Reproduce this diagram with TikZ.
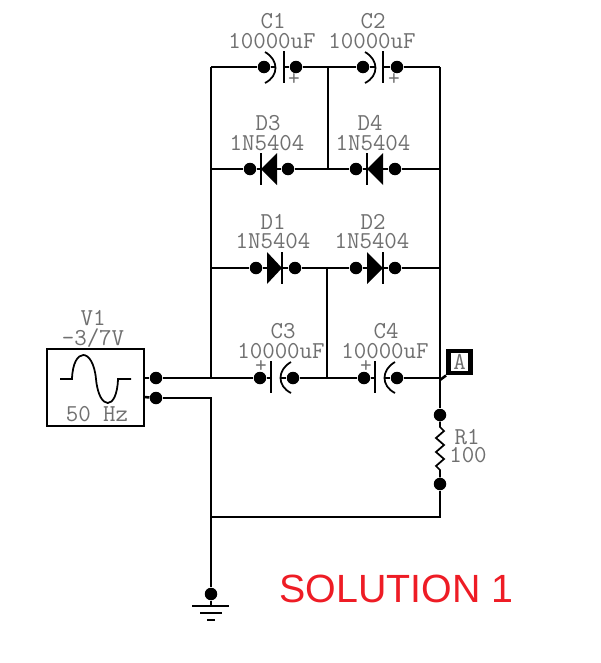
\documentclass[tikz,border=0pt]{standalone}
\usepackage{fontspec}
\newfontfamily\titlefont{Liberation Sans}
\definecolor{schemtext}{HTML}{707070}
\definecolor{schemred}{HTML}{EE1C25}
\tikzset{
    wire/.style={line width=1.45pt, black, line join=miter},
    plate/.style={line width=1.2pt, black},
    thinwire/.style={line width=1pt, black},
    pin/.style={circle, fill=black, inner sep=0pt, minimum size=0.25cm},
    lbl/.style={inner sep=0pt, text=schemtext, font=\fontsize{13.8}{15}\selectfont\ttfamily},
    plus/.style={inner sep=0pt, text=schemtext, font=\fontsize{13}{13}\selectfont\ttfamily}
}
\begin{document}
\begin{tikzpicture}[x=0.02cm, y=-0.02cm]
    \fill[white] (0,0) rectangle (600,663);
    \useasboundingbox (0,0) rectangle (600,663);

    % Corners and junctions
    \coordinate (topleft) at (211,67);
    \coordinate (topmid) at (328,67);
    \coordinate (topright) at (440,67);
    \coordinate (d3left) at (211,169);
    \coordinate (d3mid) at (328,169);
    \coordinate (d4right) at (440,169);
    \coordinate (d1left) at (211,268);
    \coordinate (d1mid) at (327,268);
    \coordinate (d2right) at (440,268);
    \coordinate (c3left) at (211,378);
    \coordinate (c3mid) at (327,378);
    \coordinate (c4right) at (440,378);
    \coordinate (probetap) at (440,380);
    \coordinate (srcbot) at (211,397);
    \coordinate (botleft) at (211,517);
    \coordinate (botright) at (440,517);

    % Source
    \node[draw, line width=1.45pt, minimum width=1.94cm, minimum height=1.54cm, inner sep=0pt] (v1) at (95.5,387.5) {};
    \node[lbl] (v1name) at (93,318) {V1};
    \node[lbl] (v1val) at (93,338) {-3/7V};
    \node[lbl] (v1freq) at (97,414) {50 Hz};
    \draw[line width=1pt] (60,379) -- (72,379) .. controls (73,347) and (93,347) .. (96,379)
        .. controls (99,411) and (117,411) .. (118,379) -- (131,379);
    \node[pin] (srca) at (156,378) {};
    \node[pin] (srcb) at (156,398) {};
    \draw[wire] (144,378) -- (srca);
    \draw[wire] (144,397) -- (srcb);
    \draw[wire] (srca) -- (c3left);
    \draw[wire] (srcb) -- (srcb -| srcbot) -- (botleft);

    % C1 and C2
    \node[lbl] (c1name) at (273,21) {C1};
    \node[lbl] (c1val) at (272,41) {10000uF};
    \node[pin] (c1a) at (264,67) {};
    \node[pin] (c1b) at (296,67) {};
    \draw[wire] (topleft) -- (c1a);
    \draw[wire] (c1a) -- (275,67);
    \draw[thinwire] (265,52) .. controls (279,60) and (279,76) .. (265,83);
    \draw[plate] (284,51) -- (284,83);
    \draw[wire] (284,67) -- (c1b);
    \node[plus] (c1plus) at (294,79) {+};
    \draw[wire] (c1b) -- (topmid);
    \node[lbl] (c2name) at (373,21) {C2};
    \node[lbl] (c2val) at (372,41) {10000uF};
    \node[pin] (c2a) at (363,67) {};
    \node[pin] (c2b) at (397,67) {};
    \draw[wire] (topmid) -- (c2a);
    \draw[wire] (c2a) -- (375,67);
    \draw[thinwire] (365,52) .. controls (379,60) and (379,76) .. (365,83);
    \draw[plate] (383,51) -- (383,83);
    \draw[wire] (383,67) -- (c2b);
    \node[plus] (c2plus) at (394,79) {+};
    \draw[wire] (c2b) -- (topright);

    % D3 and D4
    \node[lbl] (d3name) at (268,123) {D3};
    \node[lbl] (d3val) at (267,143) {1N5404};
    \node[pin] (d3a) at (250,169) {};
    \node[pin] (d3b) at (288,169) {};
    \draw[wire] (d3left) -- (d3a);
    \draw[wire] (d3a) -- (d3b);
    \draw[plate] (261,153) -- (261,185);
    \fill (261,169) -- (277,153) -- (277,185) -- cycle;
    \draw[wire] (d3b) -- (d3mid);
    \node[lbl] (d4name) at (370,123) {D4};
    \node[lbl] (d4val) at (373,143) {1N5404};
    \node[pin] (d4a) at (356,169) {};
    \node[pin] (d4b) at (395,169) {};
    \draw[wire] (d3mid) -- (d4a);
    \draw[wire] (d4a) -- (d4b);
    \draw[plate] (367,153) -- (367,185);
    \fill (367,169) -- (383,153) -- (383,185) -- cycle;
    \draw[wire] (d4b) -- (d4right);
    \draw[wire] (topmid) -- (d3mid);

    % D1 and D2
    \node[lbl] (d1name) at (273,222) {D1};
    \node[lbl] (d1val) at (273,241) {1N5404};
    \node[pin] (d1a) at (256,268) {};
    \node[pin] (d1b) at (295,268) {};
    \draw[wire] (d1left) -- (d1a);
    \draw[wire] (d1a) -- (d1b);
    \draw[plate] (282,252) -- (282,284);
    \fill (282,268) -- (267,252) -- (267,284) -- cycle;
    \draw[wire] (d1b) -- (d1mid);
    \node[lbl] (d2name) at (373,222) {D2};
    \node[lbl] (d2val) at (372,241) {1N5404};
    \node[pin] (d2a) at (356,268) {};
    \node[pin] (d2b) at (395,268) {};
    \draw[wire] (d1mid) -- (d2a);
    \draw[wire] (d2a) -- (d2b);
    \draw[plate] (383,252) -- (383,284);
    \fill (383,268) -- (367,252) -- (367,284) -- cycle;
    \draw[wire] (d2b) -- (d2right);
    \draw[wire] (d1mid) -- (c3mid);

    % C3 and C4
    \node[lbl] (c3name) at (283,331) {C3};
    \node[lbl] (c3val) at (281,351) {10000uF};
    \node[pin] (c3a) at (260,378) {};
    \node[pin] (c3b) at (293,378) {};
    \draw[wire] (c3left) -- (c3a);
    \draw[wire] (c3a) -- (271,378);
    \draw[plate] (271,361) -- (271,393);
    \draw[thinwire] (291,362) .. controls (277,370) and (277,386) .. (291,393);
    \draw[wire] (280,378) -- (c3b);
    \node[plus] (c3plus) at (261,366) {+};
    \draw[wire] (c3b) -- (c3mid);
    \node[lbl] (c4name) at (386,331) {C4};
    \node[lbl] (c4val) at (385,351) {10000uF};
    \node[pin] (c4a) at (364,378) {};
    \node[pin] (c4b) at (397,378) {};
    \draw[wire] (c3mid) -- (c4a);
    \draw[wire] (c4a) -- (375,378);
    \draw[plate] (375,361) -- (375,393);
    \draw[thinwire] (395,362) .. controls (381,370) and (381,386) .. (395,393);
    \draw[wire] (384,378) -- (c4b);
    \node[plus] (c4plus) at (366,366) {+};
    \draw[wire] (c4b) -- (c4right);

    % Outer rails
    \draw[wire] (topleft) -- (c3left);
    \draw[wire] (topright) -- (c4right);

    % Probe A
    \node[draw, line width=2.8pt, minimum size=0.44cm, inner sep=0pt, text=schemtext, font=\fontsize{13.8}{15}\selectfont\ttfamily] (probe) at (459.5,362) {A};
    \draw[wire] (probetap) -- (probe.south west);

    % R1
    \node[pin] (r1a) at (440,415) {};
    \node[pin] (r1b) at (440,484) {};
    \draw[wire] (c4right) -- (r1a);
    \draw[thinwire] (r1a) -- (440,427) -- (444,431) -- (436,438) -- (444,445) -- (436,452) -- (444,459) -- (436,466) -- (440,470) -- (r1b);
    \node[lbl] (r1name) at (467,437) {R1};
    \node[lbl] (r1val) at (468,455) {100};
    \draw[wire] (r1b) -- (botright) -- (botleft);

    % Ground
    \node[pin] (gnd) at (211,594) {};
    \draw[wire] (botleft) -- (gnd);
    \coordinate (gndtop) at (211,606);
    \draw[wire] (gnd) -- (gndtop);
    \draw[wire] (192,606) -- (229,606);
    \draw[wire] (200,613) -- (222,613);
    \draw[wire] (207,620) -- (215,620);

    \node[inner sep=0pt, text=schemred, font=\fontsize{22.4}{24}\selectfont\titlefont] (title) at (396.5,589) {SOLUTION 1};
\end{tikzpicture}
\end{document}
